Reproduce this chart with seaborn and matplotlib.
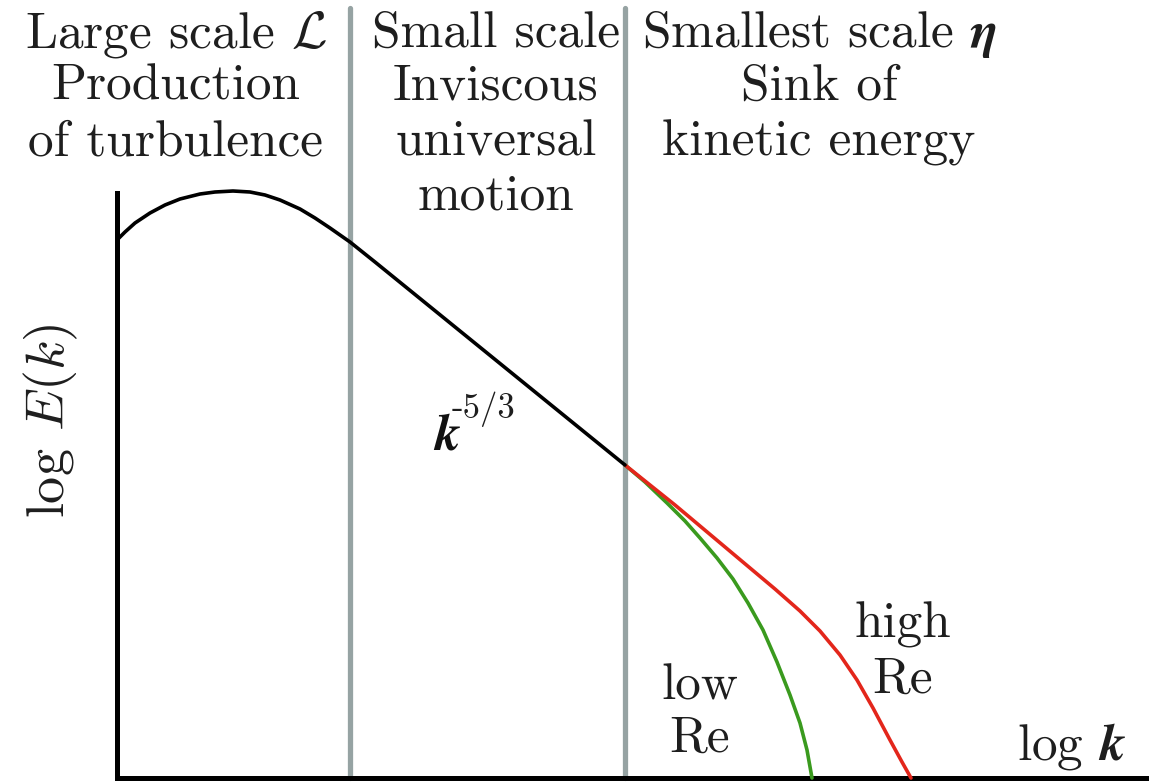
import numpy as np
import pandas as pd
import matplotlib.pyplot as plt
import seaborn as sns

# sketch of the turbulent energy spectrum
# (arbitrary log units: log k from the E axis, log E from the k axis)
log_k_main = [0.00, 0.08, 0.18, 0.33, 0.48, 0.63, 0.83, 0.98, 1.16, 1.33,
              1.48, 1.63, 1.83, 1.98, 2.13, 2.33, 2.58, 5.08]
log_E_main = [5.38, 5.46, 5.55, 5.65, 5.73, 5.79, 5.84, 5.86, 5.87, 5.86,
              5.83, 5.78, 5.69, 5.60, 5.50, 5.36, 5.16, 3.13]

# high Re dissipation range
log_k_high = [5.08, 5.33, 5.58, 5.83, 6.08, 6.33, 6.58, 6.83, 7.03, 7.23,
              7.40, 7.56, 7.73, 7.85, 7.94]
log_E_high = [3.13, 2.93, 2.73, 2.52, 2.31, 2.10, 1.89, 1.67, 1.47, 1.23,
              0.98, 0.70, 0.38, 0.16, 0.00]

# low Re dissipation range
log_k_low = [5.08, 5.28, 5.50, 5.68, 5.83, 6.00, 6.16, 6.31, 6.46, 6.60,
             6.73, 6.83, 6.90, 6.95]
log_E_low = [3.13, 2.96, 2.75, 2.57, 2.40, 2.20, 1.99, 1.75, 1.48, 1.16,
             0.83, 0.55, 0.28, 0.00]

# borders between the three ranges of scales
range_borders = [2.33, 5.08]

headers = [
    (0.59, ["Large scale $\\mathcal{L}$", "Production", "of turbulence"]),
    (3.79, ["Small scale", "Inviscous", "universal", "motion"]),
    (7.02, ["Smallest scale $\\boldsymbol{\\eta}$", "Sink of", "kinetic energy"]),
]
header_rows = [7.31, 6.78, 6.23, 5.68]

sns.set_theme(style="white")
plt.rcParams["font.family"] = "serif"
plt.rcParams["font.serif"] = ["cmr10", "DejaVu Serif"]
plt.rcParams["mathtext.fontset"] = "cm"
plt.rcParams["axes.formatter.use_mathtext"] = True

fig = plt.figure(figsize=(11.49, 7.83), dpi=100)
ax = fig.add_axes([117 / 1149, 5 / 783, 1 - 117 / 1149, 585 / 783])

for xb in range_borders:
    ax.axvline(xb, ymin=0, ymax=1.316, color="#96a3a3", lw=3.8, clip_on=False, zorder=1)

sns.lineplot(x=log_k_low, y=log_E_low, color="#3a9a1e", lw=2.6, ax=ax, zorder=3)
sns.lineplot(x=log_k_high, y=log_E_high, color="#e3261b", lw=2.6, ax=ax, zorder=4)
sns.lineplot(x=log_k_main, y=log_E_main, color="black", lw=2.6, ax=ax, zorder=5)
for line in ax.lines:
    line.set_clip_on(False)
    line.set_solid_joinstyle("round")

ax.set_xlim(0, 10.32)
ax.set_ylim(0, 5.85)
ax.set_xticks([])
ax.set_yticks([])
ax.set_xlabel("")
ax.set_ylabel("")
sns.despine(ax=ax)
for side in ["left", "bottom"]:
    ax.spines[side].set_linewidth(3.6)
    ax.spines[side].set_color("black")

fs = 37
ink = "#1e1e1e"
for xc, lines in headers:
    for txt, yr in zip(lines, header_rows):
        ax.text(xc, yr, txt, ha="center", va="baseline", fontsize=fs, color=ink)

ax.text(-0.66, 3.57, "log $E(k)$", rotation=90, ha="center", va="center",
        fontsize=39, color=ink)
ax.text(3.16, 3.28, "$\\boldsymbol{k}$", ha="left", va="baseline",
        fontsize=fs, color="#111111")
ax.text(3.35, 3.60, "-5/3", ha="left", va="baseline", fontsize=25, color=ink)
ax.text(5.83, 0.78, "low", ha="center", va="baseline", fontsize=fs, color=ink)
ax.text(5.83, 0.26, "Re", ha="center", va="baseline", fontsize=fs, color=ink)
ax.text(7.86, 1.41, "high", ha="center", va="baseline", fontsize=fs, color=ink)
ax.text(7.86, 0.85, "Re", ha="center", va="baseline", fontsize=fs, color=ink)
ax.text(9.55, 0.18, "log $\\boldsymbol{k}$", ha="center", va="baseline",
        fontsize=fs, color=ink)

fig.savefig("out.png", dpi=100)
